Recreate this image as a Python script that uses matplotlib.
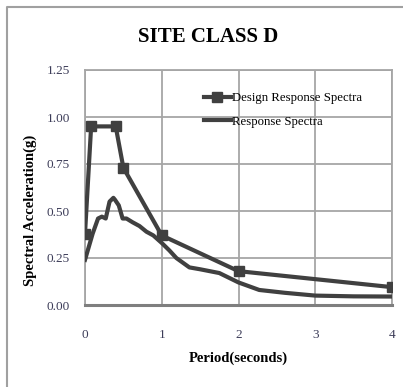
import matplotlib
matplotlib.use("Agg")
import matplotlib.pyplot as plt
from matplotlib.lines import Line2D

# design response spectrum (site class D)
design_t = [0.0, 0.08, 0.4, 0.5, 1.0, 2.0, 4.0]
design_sa = [0.38, 0.95, 0.95, 0.73, 0.37, 0.18, 0.095]

# response spectrum
resp_t = [0.0, 0.1, 0.17, 0.22, 0.27, 0.32, 0.37, 0.39, 0.44, 0.49, 0.54, 0.62,
          0.71, 0.8, 0.89, 1.0, 1.1, 1.19, 1.36, 1.5, 1.75, 2.0, 2.27, 2.6, 3.0,
          3.5, 4.0]
resp_sa = [0.24, 0.38, 0.46, 0.47, 0.46, 0.55, 0.57, 0.56, 0.53, 0.46, 0.46, 0.44,
           0.42, 0.39, 0.37, 0.33, 0.29, 0.25, 0.20, 0.19, 0.17, 0.12, 0.08, 0.065,
           0.05, 0.046, 0.045]

x_ticks = [0, 1, 2, 3, 4]
y_ticks = [0.0, 0.25, 0.5, 0.75, 1.0, 1.25]

plt.rcParams['font.family'] = ['Liberation Serif', 'DejaVu Serif']

fig = plt.figure(figsize=(4.03, 3.87), dpi=100)
ax = fig.add_axes([85/403, 1 - 305/387, 307/403, 235/387])

line_col = '#404040'
ax.plot(design_t, design_sa, color=line_col, lw=3, marker='s', ms=6.5,
        label='Design Response Spectra', zorder=3)
ax.plot(resp_t, resp_sa, color=line_col, lw=3, label='Response Spectra', zorder=3)

ax.set_xlim(0, 4)
ax.set_ylim(0, 1.25)
ax.set_xticks(x_ticks)
ax.set_yticks(y_ticks)
ax.set_xticklabels([str(t) for t in x_ticks])
ax.set_yticklabels(['%.2f' % v for v in y_ticks])
ax.tick_params(length=0, labelsize=9.5, labelcolor='#3c3c58')
ax.tick_params(axis='y', pad=11)
ax.tick_params(axis='x', pad=17)
ax.grid(True, color='#a6a6a6', lw=1.3)
ax.set_axisbelow(True)
for s in ['left', 'top', 'right']:
    ax.spines[s].set_color('#a6a6a6')
    ax.spines[s].set_linewidth(1.3)
ax.spines['bottom'].set_color('#7f7f7f')
ax.spines['bottom'].set_linewidth(2.2)

fig.text(208/403, 1 - 37/387, 'SITE CLASS D', ha='center', va='center',
         fontsize=15, fontweight='bold')
fig.text(30/403, 1 - 210/387, 'Spectral Acceleration(g)', rotation=90,
         ha='center', va='center', fontsize=10.5, fontweight='bold')
fig.text(238/403, 1 - 358/387, 'Period(seconds)', ha='center', va='center',
         fontsize=10.5, fontweight='bold')

fig.legend(loc='upper left', bbox_to_anchor=(204/403, 1 - 92/387), frameon=False,
           fontsize=9.2, handlelength=2.1, handletextpad=0.1, labelspacing=0.9,
           borderpad=0, borderaxespad=0)

# outer frame (left and top edges)
fig.add_artist(Line2D([7/403, 7/403, 1], [0, 1 - 7/387, 1 - 7/387],
                      transform=fig.transFigure, color='#a0a0a0', lw=1.5))

fig.savefig('out.png', dpi=100)
